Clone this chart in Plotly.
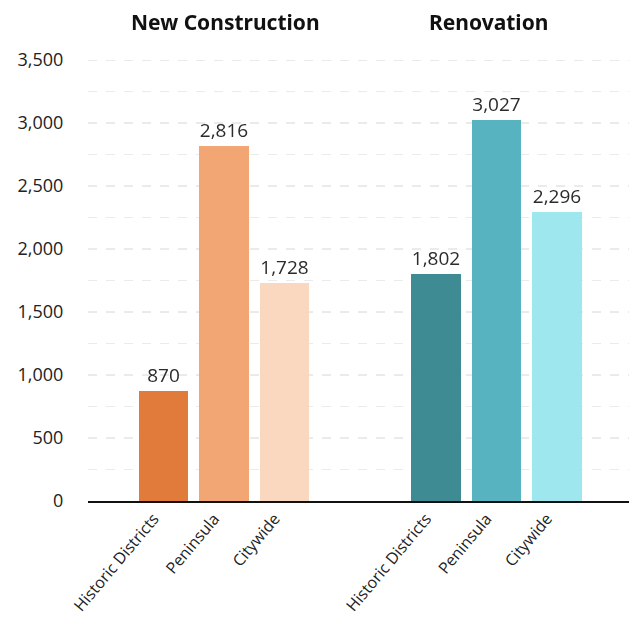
import plotly.graph_objects as go

groups = ["New Construction", "Renovation"]
categories = ["Historic Districts", "Peninsula", "Citywide"]
new_construction = [870, 2816, 1728]
renovation = [1802, 3027, 2296]
nc_colors = ["#E07633", "#F2A26D", "#FAD6BD"]
rn_colors = ["#37868F", "#51B0BE", "#9BE6EE"]
y_ticks = [0, 500, 1000, 1500, 2000, 2500, 3000, 3500]
y_half = [250, 750, 1250, 1750, 2250, 2750, 3250]

x_nc = [0, 1, 2]
x_rn = [4.5, 5.5, 6.5]

FONT = "Open Sans"

fig = go.Figure()

for v in y_ticks[1:]:
    fig.add_hline(y=v, line=dict(color="#D6D6D6", width=1, dash="dash"), layer="below")
for v in y_half:
    fig.add_hline(y=v, line=dict(color="#EBEBEB", width=1, dash="dash"), layer="below")

for xs, vals, cols in [(x_nc, new_construction, nc_colors), (x_rn, renovation, rn_colors)]:
    fig.add_trace(go.Bar(
        x=xs, y=vals, width=0.82,
        marker=dict(color=cols, line=dict(width=0)),
        opacity=0.96,
        text=[f"{v:,}" for v in vals],
        textposition="outside",
        textfont=dict(family=FONT, size=19, color="#222"),
        cliponaxis=False,
        showlegend=False,
        hoverinfo="skip",
    ))

for xpos, title in [(1.03, groups[0]), (5.36, groups[1])]:
    fig.add_annotation(x=xpos, y=1.0, xref="x", yref="paper", yanchor="middle", yshift=38,
                       text="<b>" + title + "</b>", showarrow=False,
                       font=dict(family="Noto Sans", size=21, color="#111"))

fig.update_layout(
    width=629, height=625,
    margin=dict(l=88, r=0, t=60, b=124, autoexpand=False),
    plot_bgcolor="white", paper_bgcolor="white",
    bargap=0,
    xaxis=dict(
        range=[-1.25, 7.69],
        tickvals=x_nc + x_rn,
        ticktext=categories + categories,
        tickangle=-50,
        tickfont=dict(family=FONT, size=16, color="#222"),
        ticklabelshift=-10,
        showgrid=False, zeroline=False,
        showline=True, linecolor="#111", linewidth=2,
        ticks="", automargin=False,
    ),
    yaxis=dict(
        range=[0, 3500],
        tickvals=y_ticks,
        ticktext=[f"{v:,}" for v in y_ticks],
        tickfont=dict(family=FONT, size=18, color="#222"),
        showgrid=False, zeroline=False,
        ticks="outside", ticklen=20, tickcolor="rgba(0,0,0,0)",
        automargin=False,
    ),
)

fig.write_html("out.html", config={"displayModeBar": False},
               post_script="document.body.style.margin='0';")
